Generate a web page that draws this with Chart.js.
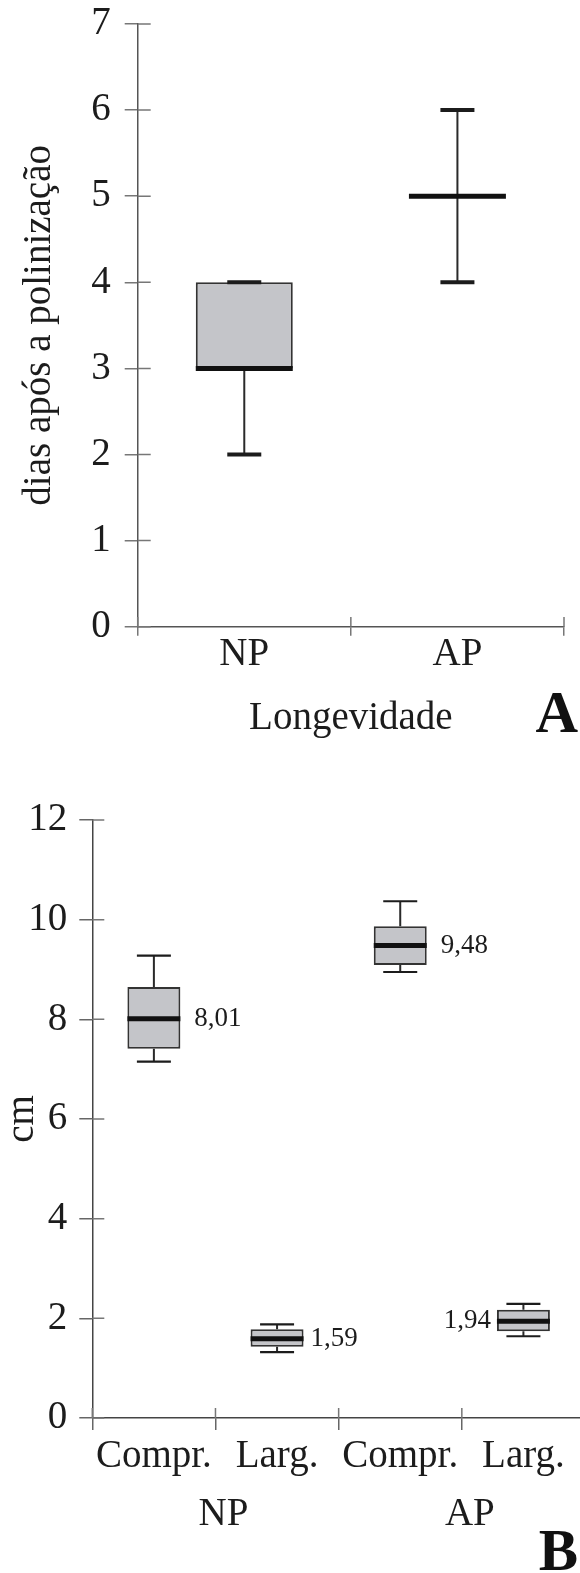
<!DOCTYPE html>
<html>
<head>
<meta charset="utf-8">
<script src="https://cdn.jsdelivr.net/npm/chart.js@4/dist/chart.umd.min.js"></script>
<style>
  body { margin: 0; width: 580px; height: 1573px; overflow: hidden; background: #fff; position: relative; }
  .wrap { position: absolute; left: 0; }
  .tag { position: absolute; right: 2px; font: bold 59px 'Liberation Serif', serif; line-height: 59px; color: #111; }
</style>
</head>
<body>
<div class="wrap" style="top:0;width:580px;height:760px"><canvas id="chartA"></canvas></div>
<div class="wrap" style="top:760px;width:600px;height:813px"><canvas id="chartB"></canvas></div>
<div class="tag" style="top:683px">A</div>
<div class="tag" style="top:1521px">B</div>
<script>
// --- chart A: longevidade (dias)
const catsA = ['NP', 'AP'];
const minA = [2, 4];
const q1A = [3, 5];
const medA = [3, 5];
const q3A = [4, 5];
const maxA = [4, 6];
const yTicksA = [0, 1, 2, 3, 4, 5, 6, 7];

// --- chart B: medidas (cm)
const catsB = ['Compr.', 'Larg.', 'Compr.', 'Larg.'];
const groupsB = ['NP', 'AP'];
const minB = [7.15, 1.32, 8.95, 1.64];
const q1B = [7.41, 1.43, 9.09, 1.74];
const medB = [8.01, 1.59, 9.48, 1.94];
const q3B = [8.65, 1.78, 9.87, 2.17];
const maxB = [9.28, 1.88, 10.37, 2.29];
const medTextB = ['8,01', '1,59', '9,48', '1,94'];
const yTicksB = [0, 2, 4, 6, 8, 10, 12];

const serif = "'Liberation Serif', 'Times New Roman', serif";
const ink = '#1c1c1c';

function boxPlugin(st, sty) {
  return {
    id: 'boxes',
    afterDatasetsDraw(chart) {
      const ctx = chart.ctx;
      const y = chart.scales.y;
      const bars = chart.getDatasetMeta(0).data;
      ctx.save();
      ctx.lineCap = 'butt';
      bars.forEach((bar, i) => {
        const x = bar.x;
        const hw = bar.width / 2;
        // whiskers
        ctx.strokeStyle = '#2a2a2a';
        ctx.lineWidth = 2;
        ctx.beginPath();
        ctx.moveTo(x, y.getPixelForValue(st.q3[i]));
        ctx.lineTo(x, y.getPixelForValue(st.max[i]));
        ctx.moveTo(x, y.getPixelForValue(st.q1[i]));
        ctx.lineTo(x, y.getPixelForValue(st.min[i]));
        ctx.stroke();
        // caps
        ctx.strokeStyle = ink;
        ctx.lineWidth = sty.capLw;
        ctx.beginPath();
        [st.min[i], st.max[i]].forEach(v => {
          const py = y.getPixelForValue(v);
          ctx.moveTo(x - sty.capW / 2, py);
          ctx.lineTo(x + sty.capW / 2, py);
        });
        ctx.stroke();
        // median
        ctx.strokeStyle = '#111';
        ctx.lineWidth = sty.medLw;
        ctx.beginPath();
        const pm = y.getPixelForValue(st.med[i]);
        ctx.moveTo(x - hw, pm);
        ctx.lineTo(x + hw, pm);
        ctx.stroke();
      });
      ctx.restore();
    }
  };
}

// tick marks also cross into the plot
function innerTicks(yIn, xIn) {
  return {
    id: 'innerTicks',
    afterDraw(chart) {
      const { ctx, chartArea } = chart;
      const xs = chart.scales.x, ys = chart.scales.y;
      ctx.save();
      ctx.strokeStyle = '#777';
      ctx.lineWidth = 1.5;
      ctx.beginPath();
      ys.ticks.forEach(t => {
        const py = ys.getPixelForValue(t.value);
        ctx.moveTo(chartArea.left, py);
        ctx.lineTo(chartArea.left + yIn, py);
      });
      for (let i = 0; i <= xs.ticks.length; i++) {
        const px = xs.getPixelForValue(i - 0.5);
        ctx.moveTo(px, chartArea.bottom);
        ctx.lineTo(px, chartArea.bottom - xIn);
      }
      ctx.stroke();
      ctx.restore();
    }
  };
}

const medLabels = {
  id: 'medLabels',
  afterDatasetsDraw(chart) {
    const ctx = chart.ctx;
    const y = chart.scales.y;
    const dx = [14, 7, 14, -6];
    ctx.save();
    ctx.font = '27px ' + serif;
    ctx.fillStyle = ink;
    ctx.textBaseline = 'middle';
    chart.getDatasetMeta(0).data.forEach((bar, i) => {
      const hw = bar.width / 2;
      const left = dx[i] < 0;
      ctx.textAlign = left ? 'right' : 'left';
      ctx.fillText(medTextB[i], left ? bar.x - hw + dx[i] : bar.x + hw + dx[i], y.getPixelForValue(medB[i]));
    });
    ctx.restore();
  }
};

const bigFont = { family: serif, size: 39, lineHeight: 1 };

function fixY(w) {
  return s => { s.width = w; s.paddingTop = 0; s.paddingBottom = 0; };
}

new Chart(document.getElementById('chartA'), {
  type: 'bar',
  data: {
    labels: catsA,
    datasets: [{
      data: catsA.map((_, i) => [q1A[i], q3A[i]]),
      backgroundColor: '#c4c5c9', borderColor: '#333', borderWidth: 2, borderSkipped: false,
      barPercentage: 0.455, categoryPercentage: 1
    }]
  },
  options: {
    responsive: true, maintainAspectRatio: false, animation: false,
    layout: { padding: { top: 24, right: 16, left: 0, bottom: 0 } },
    plugins: { legend: { display: false }, tooltip: { enabled: false } },
    scales: {
      x: {
        offset: true,
        grid: { offset: true, drawOnChartArea: false, tickLength: 9, color: '#777', lineWidth: 1.5 },
        border: { color: '#555', width: 1.5 },
        ticks: { font: bigFont, color: ink, padding: 0, maxRotation: 0, autoSkip: false },
        title: { display: true, text: 'Longevidade', font: bigFont, color: ink, padding: { top: 0, bottom: 21.7 } },
        afterFit: s => { s.height = 133.3; }
      },
      y: {
        min: 0, max: 7,
        afterBuildTicks: s => { s.ticks = yTicksA.map(v => ({ value: v })); },
        grid: { drawOnChartArea: false, tickLength: 13, color: '#777', lineWidth: 1.5 },
        border: { color: '#555', width: 1.5 },
        ticks: { font: bigFont, color: ink, padding: 14 },
        title: { display: true, text: 'dias após a polinização', font: bigFont, color: ink, padding: { top: 20, bottom: 0 } },
        afterFit: fixY(137.7)
      }
    }
  },
  plugins: [boxPlugin({ min: minA, q1: q1A, med: medA, q3: q3A, max: maxA }, { capW: 34, capLw: 4, medLw: 5 }), innerTicks(13, 9.6)]
});

new Chart(document.getElementById('chartB'), {
  type: 'bar',
  data: {
    labels: catsB,
    datasets: [{
      data: catsB.map((_, i) => [q1B[i], q3B[i]]),
      backgroundColor: '#c4c5c9', borderColor: '#333', borderWidth: 2, borderSkipped: false,
      barPercentage: 0.43, categoryPercentage: 1
    }]
  },
  options: {
    responsive: true, maintainAspectRatio: false, animation: false,
    layout: { padding: { top: 60, right: 15, left: 0, bottom: 0 } },
    plugins: { legend: { display: false }, tooltip: { enabled: false } },
    scales: {
      x: {
        weight: 0,
        offset: true,
        grid: { offset: true, drawOnChartArea: false, tickLength: 12, color: '#666', lineWidth: 1.5 },
        border: { color: '#444', width: 1.5 },
        ticks: { font: bigFont, color: ink, padding: 7.3, maxRotation: 0, autoSkip: false },
        afterFit: s => { s.height = 60; }
      },
      x2: {
        type: 'category', labels: groupsB, position: 'bottom', weight: 1,
        offset: true,
        grid: { display: false, drawTicks: false },
        border: { display: false },
        ticks: { font: bigFont, color: ink, padding: 17.3, labelOffset: 8, maxRotation: 0, autoSkip: false },
        afterFit: s => { s.height = 95; }
      },
      y: {
        min: 0, max: 12,
        afterBuildTicks: s => { s.ticks = yTicksB.map(v => ({ value: v })); },
        grid: { drawOnChartArea: false, tickLength: 13, color: '#666', lineWidth: 1.5 },
        border: { color: '#444', width: 1.5 },
        ticks: { font: bigFont, color: ink, padding: 12 },
        title: { display: true, text: 'cm', font: bigFont, color: ink, padding: { top: 3, bottom: 0 } },
        afterFit: fixY(92.3)
      }
    }
  },
  plugins: [boxPlugin({ min: minB, q1: q1B, med: medB, q3: q3B, max: maxB }, { capW: 34, capLw: 2.2, medLw: 5 }), innerTicks(12, 10), medLabels]
});
</script>
</body>
</html>
